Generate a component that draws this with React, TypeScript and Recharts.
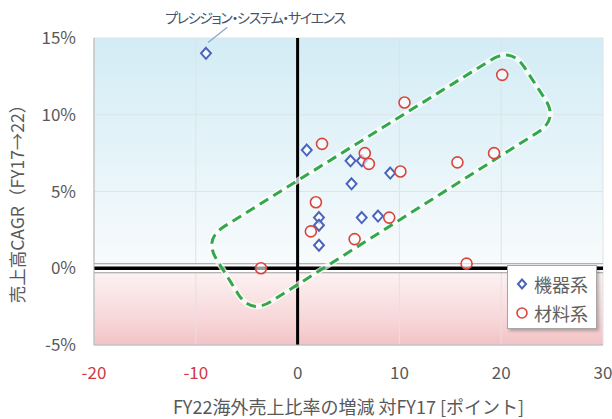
import React from "react";
import {
	ScatterChart,
	Scatter,
	XAxis,
	YAxis,
	CartesianGrid,
	ReferenceLine,
	ReferenceDot,
	Legend,
} from "recharts";

// 機器系 (x: 海外売上比率の増減 [pt], y: 売上高CAGR [%])
const equipmentX = [-9.0, 0.9, 5.2, 6.3, 5.3, 9.1, 2.1, 2.1, 2.1, 6.3, 7.9];
const equipmentY = [14.0, 7.7, 7.0, 7.0, 5.5, 6.2, 3.3, 2.8, 1.5, 3.3, 3.4];

// 材料系
const materialX = [2.4, 6.6, 7.0, 10.1, 1.8, 1.3, 5.6, 9.0, 10.5, 20.1, 15.7, 19.3, -3.6, 16.6];
const materialY = [8.1, 7.5, 6.8, 6.3, 4.3, 2.4, 1.9, 3.3, 10.8, 12.6, 6.9, 7.5, 0.0, 0.3];

// dashed group outline corners (data space)
const outlineX = [21.0, 25.6, -4.6, -9.2];
const outlineY = [14.4, 9.7, -3.0, 1.9];

const xTicks = [-20, -10, 0, 10, 20, 30];
const yTicks = [-5, 0, 5, 10, 15];

const seriesNames = ["機器系", "材料系"];
const calloutText = "プレシジョン・システム・サイエンス";

const toPoints = (xs: number[], ys: number[]) => xs.map((x, i) => ({ x, y: ys[i] }));

const equipmentData = toPoints(equipmentX, equipmentY);
const materialData = toPoints(materialX, materialY);
const outlineData = toPoints(outlineX, outlineY);

const BLUE = "#4a64bb";
const RED = "#db443d";
const GREEN = "#33a84a";
const TEXT = "#595959";
const FONT = '"Noto Sans CJK JP", "Noto Sans", sans-serif';

const Diamond = ({ cx, cy, s = 5.5 }: any) => (
	<path
		d={`M${cx},${cy - s} L${cx + s * 0.9},${cy} L${cx},${cy + s} L${cx - s * 0.9},${cy} Z`}
		fill="#fff"
		fillOpacity={0.7}
		stroke={BLUE}
		strokeWidth={2}
	/>
);

const Ring = ({ cx, cy, r = 5.5 }: any) => (
	<circle cx={cx} cy={cy} r={r} fill="#fff" fillOpacity={0.6} stroke={RED} strokeWidth={1.6} />
);

function roundedPath(pts: { x: number; y: number }[], r: number) {
	const n = pts.length;
	let d = "";
	for (let i = 0; i < n; i++) {
		const p = pts[i];
		const prev = pts[(i - 1 + n) % n];
		const next = pts[(i + 1) % n];
		const l1 = Math.hypot(prev.x - p.x, prev.y - p.y);
		const l2 = Math.hypot(next.x - p.x, next.y - p.y);
		const ax = p.x + ((prev.x - p.x) / l1) * r;
		const ay = p.y + ((prev.y - p.y) / l1) * r;
		const bx = p.x + ((next.x - p.x) / l2) * r;
		const by = p.y + ((next.y - p.y) / l2) * r;
		d += `${i === 0 ? "M" : "L"}${ax},${ay} Q${p.x},${p.y} ${bx},${by} `;
	}
	return d + "Z";
}

const OutlineLine = (props: any) => {
	const pts = props.points || [];
	if (pts.length < 3) return <g />;
	const d = roundedPath(pts, 24);
	return (
		<g>
			<path d={d} fill="none" stroke="#ffffff" strokeOpacity={0.7} strokeWidth={6} />
			<path d={d} fill="none" stroke={GREEN} strokeWidth={3} strokeDasharray="10 6" />
		</g>
	);
};

const LegendBox = () => (
	<div
		style={{
			width: 90,
			height: 64,
			background: "#fff",
			border: "1px solid #a6a6a6",
			boxShadow: "2px 2px 3px rgba(0,0,0,0.25)",
			fontFamily: FONT,
			fontSize: 18,
			color: "#606060",
			boxSizing: "border-box",
			padding: "3px 0 0 7px",
		}}
	>
		{seriesNames.map((name, i) => (
			<div key={name} style={{ display: "flex", alignItems: "center", height: 29 }}>
				<svg width={14} height={14} style={{ marginRight: 5 }}>
					{i === 0 ? <Diamond cx={7} cy={7} s={4.5} /> : <Ring cx={7} cy={7} r={5} />}
				</svg>
				<span>{name}</span>
			</div>
		))}
	</div>
);

export default function App() {
	return (
		<div style={{ position: "absolute", left: 0, top: 0, width: 612, height: 419, background: "#fff" }}>
			<ScatterChart
				width={612}
				height={419}
				margin={{ top: 38, right: 9, bottom: 0, left: 0 }}
				style={{ fontFamily: FONT }}
			>
				<defs>
					<linearGradient id="bgFill" x1="0" y1="0" x2="0" y2="1">
						<stop offset="0%" stopColor="#d3ecf5" />
						<stop offset="40%" stopColor="#e6f4f9" />
						<stop offset="74%" stopColor="#f8fbfc" />
						<stop offset="75.5%" stopColor="#fdf3f3" />
						<stop offset="92%" stopColor="#f7d6d8" />
						<stop offset="100%" stopColor="#f2c2c5" />
					</linearGradient>
				</defs>
				<CartesianGrid fill="url(#bgFill)" stroke="#dde3e6" strokeWidth={1} fillOpacity={1} />
				<XAxis
					type="number"
					dataKey="x"
					domain={[-20, 30]}
					ticks={xTicks}
					height={74}
					tickLine={false}
					axisLine={{ stroke: "#b3b3b3" }}
					tickSize={0}
					tickMargin={22}
					tick={(p: any) => (
						<text
							x={p.x}
							y={p.y}
							dy="0.71em"
							textAnchor="middle"
							fontSize={17}
							fill={p.payload.value < 0 ? "#d23744" : TEXT}
							fontFamily={FONT}
						>
							{p.payload.value}
						</text>
					)}
					label={(p: any) => {
						const vb = p.viewBox;
						return (
							<text
								x={vb.x + vb.width / 2}
								y={vb.y + 69}
								textAnchor="middle"
								fontSize={18}
								fill={TEXT}
								fontFamily={FONT}
							>
								FY22海外売上比率の増減 対FY17 [ポイント]
							</text>
						);
					}}
				/>
				<YAxis
					type="number"
					dataKey="y"
					domain={[-5, 15]}
					ticks={yTicks}
					width={94}
					tickLine={false}
					axisLine={{ stroke: "#b3b3b3" }}
					tickSize={0}
					tickMargin={18}
					tickFormatter={(v) => `${v}%`}
					tick={{ fontSize: 17, fill: TEXT }}
					label={(p: any) => {
						const vb = p.viewBox;
						const cx = vb.x + 24;
						const cy = vb.y + vb.height / 2 + 8;
						return (
							<text
								x={cx}
								y={cy}
								transform={`rotate(-90, ${cx}, ${cy})`}
								textAnchor="middle"
								fontSize={17.5}
								fill={TEXT}
								fontFamily={FONT}
							>
								売上高CAGR（FY17→22）
							</text>
						);
					}}
				/>
				<ReferenceLine y={0} stroke="#9a9a9a" strokeWidth={10} />
				<ReferenceLine y={0} stroke="#ffffff" strokeWidth={8} />
				<ReferenceLine y={0} stroke="#000" strokeWidth={3.5} />
				<ReferenceLine x={0} stroke="#000" strokeWidth={3} />
				<ReferenceLine
					segment={[
						{ x: -8.8, y: 14.7 },
						{ x: -6.9, y: 15.7 },
					]}
					stroke="#8ea7cc"
					strokeWidth={1.3}
					ifOverflow="visible"
				/>
				<ReferenceDot
					x={-4.2}
					y={16.3}
					r={0}
					ifOverflow="visible"
					label={(p: any) => {
						const vb = p.viewBox;
						return (
							<text
								x={vb.x + vb.width / 2}
								y={vb.y + vb.height / 2 + 5}
								textAnchor="middle"
								fontSize={14}
								fill="#44546a"
								fontFamily={FONT}
								style={{ fontFeatureSettings: '"palt" 1', letterSpacing: "-1.4px" }}
							>
								{calloutText}
							</text>
						);
					}}
				/>
				<Scatter
					name="group"
					data={outlineData}
					line={OutlineLine}
					lineType="joint"
					shape={() => <g />}
					isAnimationActive={false}
					legendType="none"
				/>
				<Scatter
					name={seriesNames[0]}
					data={equipmentData}
					shape={Diamond}
					isAnimationActive={false}
				/>
				<Scatter
					name={seriesNames[1]}
					data={materialData}
					shape={Ring}
					isAnimationActive={false}
				/>
				<Legend
					layout="vertical"
					align="center"
					verticalAlign="middle"
					content={() => <LegendBox />}
					wrapperStyle={{ left: 507, top: 265, width: 91, height: 66 }}
				/>
			</ScatterChart>
		</div>
	);
}
